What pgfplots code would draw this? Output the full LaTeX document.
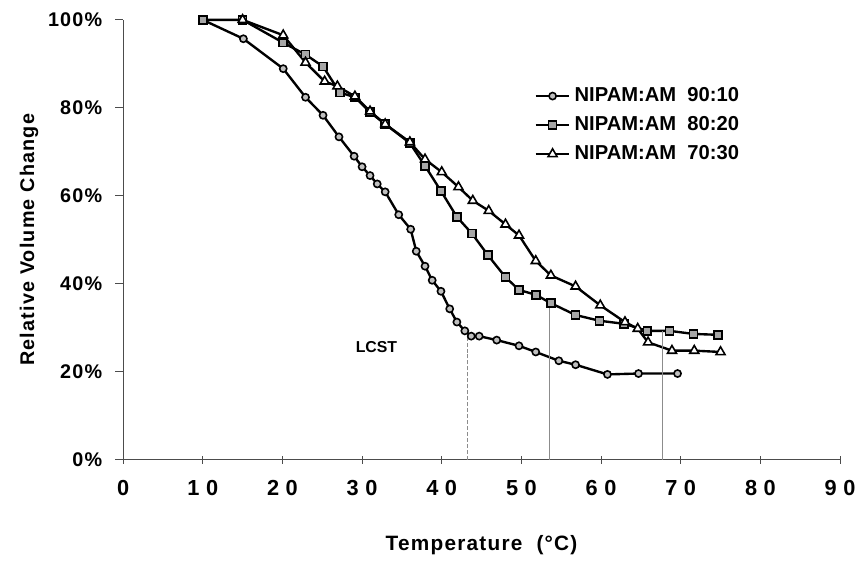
\documentclass[border=0pt]{standalone}
\usepackage{fontspec}
\setmainfont{Liberation Sans}
\usepackage{pgfplots}
\pgfplotsset{compat=1.18}

\begin{document}
\begin{tikzpicture}[x=1bp,y=1bp]
\begin{axis}[
  scale only axis,
  width=361bp, height=221.5bp,
  xmin=0, xmax=90, ymin=0, ymax=100,
  axis x line*=bottom, axis y line*=left,
  axis line style={draw=black!70, line width=0.6pt, -},
  xtick={0,10,...,90}, ytick={0,20,...,100},
  x tick style={draw=black!70, line width=0.5pt},
  y tick style={draw=black!70, line width=0.5pt},
  major tick length=4bp,
  xtick align=center, ytick align=outside,
  xticklabel={\addfontfeature{LetterSpace=30}\pgfmathprintnumber{\tick}},
  yticklabel={\addfontfeature{LetterSpace=6}\pgfmathprintnumber{\tick}\%},
  /pgf/number format/assume math mode=true,
  tick label style={font=\fontsize{10}{12}\selectfont\bfseries},
  xticklabel style={yshift=-5bp, font=\fontsize{11}{13}\selectfont\bfseries},
  yticklabel style={xshift=-3bp},
  xlabel={\addfontfeature{LetterSpace=6}Temperature\ \ (°C)},
  ylabel={\addfontfeature{LetterSpace=6}Relative Volume Change},
  label style={font=\fontsize{10}{12}\selectfont\bfseries},
  xlabel style={yshift=-13bp, font=\fontsize{10.5}{12}\selectfont\bfseries},
  ylabel style={yshift=-2bp},
  legend style={at={(rel axis cs:0.565,0.865)}, anchor=north west,
    draw=none, fill=none, font=\fontsize{10.2}{12}\selectfont\bfseries,
    row sep=2bp},
  legend cell align=left,
  clip=false,
  every axis plot/.append style={black, line width=1.2pt, sharp plot},
]
% circles, NIPAM:AM 90:10
\addplot[mark=*, mark size=1.8bp, mark options={line width=0.8pt, fill=black!25}] coordinates {
  (10,100) (15.1,95.7) (20.1,88.9) (22.9,82.4) (25.1,78.3) (27.1,73.4)
  (29.0,69.0) (30.0,66.6) (31.0,64.6) (31.9,62.7) (32.9,60.9) (34.6,55.7)
  (36.1,52.4) (36.8,47.4) (37.9,44.0) (38.8,40.8) (39.9,38.3) (41.0,34.3)
  (41.9,31.3) (42.9,29.3) (43.7,28.1) (44.7,28.1) (46.9,27.2) (49.7,25.9)
  (51.8,24.5) (54.7,22.5) (56.8,21.6) (60.8,19.4) (64.7,19.6) (69.6,19.6)
};
\addlegendentry{NIPAM:AM\ \ 90:10}
% squares, NIPAM:AM 80:20
\addplot[mark=square*, mark size=2bp, mark options={line width=0.8pt, fill=black!35}] coordinates {
  (10,100) (15,100) (20.1,94.8) (22.9,92.1) (25.1,89.4) (27.2,83.5)
  (29.1,82.4) (31.0,79.0) (32.9,76.3) (36.0,72.0) (37.9,66.8) (39.9,61.1)
  (41.9,55.2) (43.8,51.4) (45.8,46.5) (48.0,41.5) (49.7,38.6) (51.8,37.5)
  (53.7,35.6) (56.8,32.9) (59.8,31.6) (62.9,30.9) (65.8,29.3) (68.6,29.3)
  (71.6,28.6) (74.7,28.4)
};
\addlegendentry{NIPAM:AM\ \ 80:20}
% triangles, NIPAM:AM 70:30
\addplot[mark=triangle*, mark size=2.6bp, mark options={line width=0.8pt, fill=white}] coordinates {
  (15,100) (20.1,96.5) (22.9,90.3) (25.3,86.0) (26.9,84.9) (29.1,82.6)
  (31.0,79.2) (32.9,76.3) (36.0,72.2) (37.9,68.3) (40.0,65.4) (42.1,62.0)
  (43.9,58.9) (45.9,56.6) (48.0,53.5) (49.7,51.0) (51.8,45.2) (53.7,41.9)
  (56.8,39.4) (59.9,35.1) (63.0,31.3) (64.6,29.8) (65.9,26.7) (68.9,24.8)
  (71.7,24.8) (75.0,24.5)
};
\addlegendentry{NIPAM:AM\ \ 70:30}
% LCST markers
\addplot[forget plot, black!45, line width=0.5pt, dash pattern=on 2bp off 1bp, mark=none] coordinates {(43.2,0) (43.2,28.1)};
\addplot[forget plot, black!45, line width=0.5pt, mark=none] coordinates {(53.5,0) (53.5,35.6)};
\addplot[forget plot, black!45, line width=0.5pt, mark=none] coordinates {(67.7,0) (67.7,29.3)};
\node[font=\fontsize{8}{10}\selectfont\bfseries] at (axis cs:31.8,25.7) {LCST};
\path (rel axis cs:-0.1717,-0.2077) rectangle (rel axis cs:1.022,1.0451);
\end{axis}
\end{tikzpicture}
\end{document}
